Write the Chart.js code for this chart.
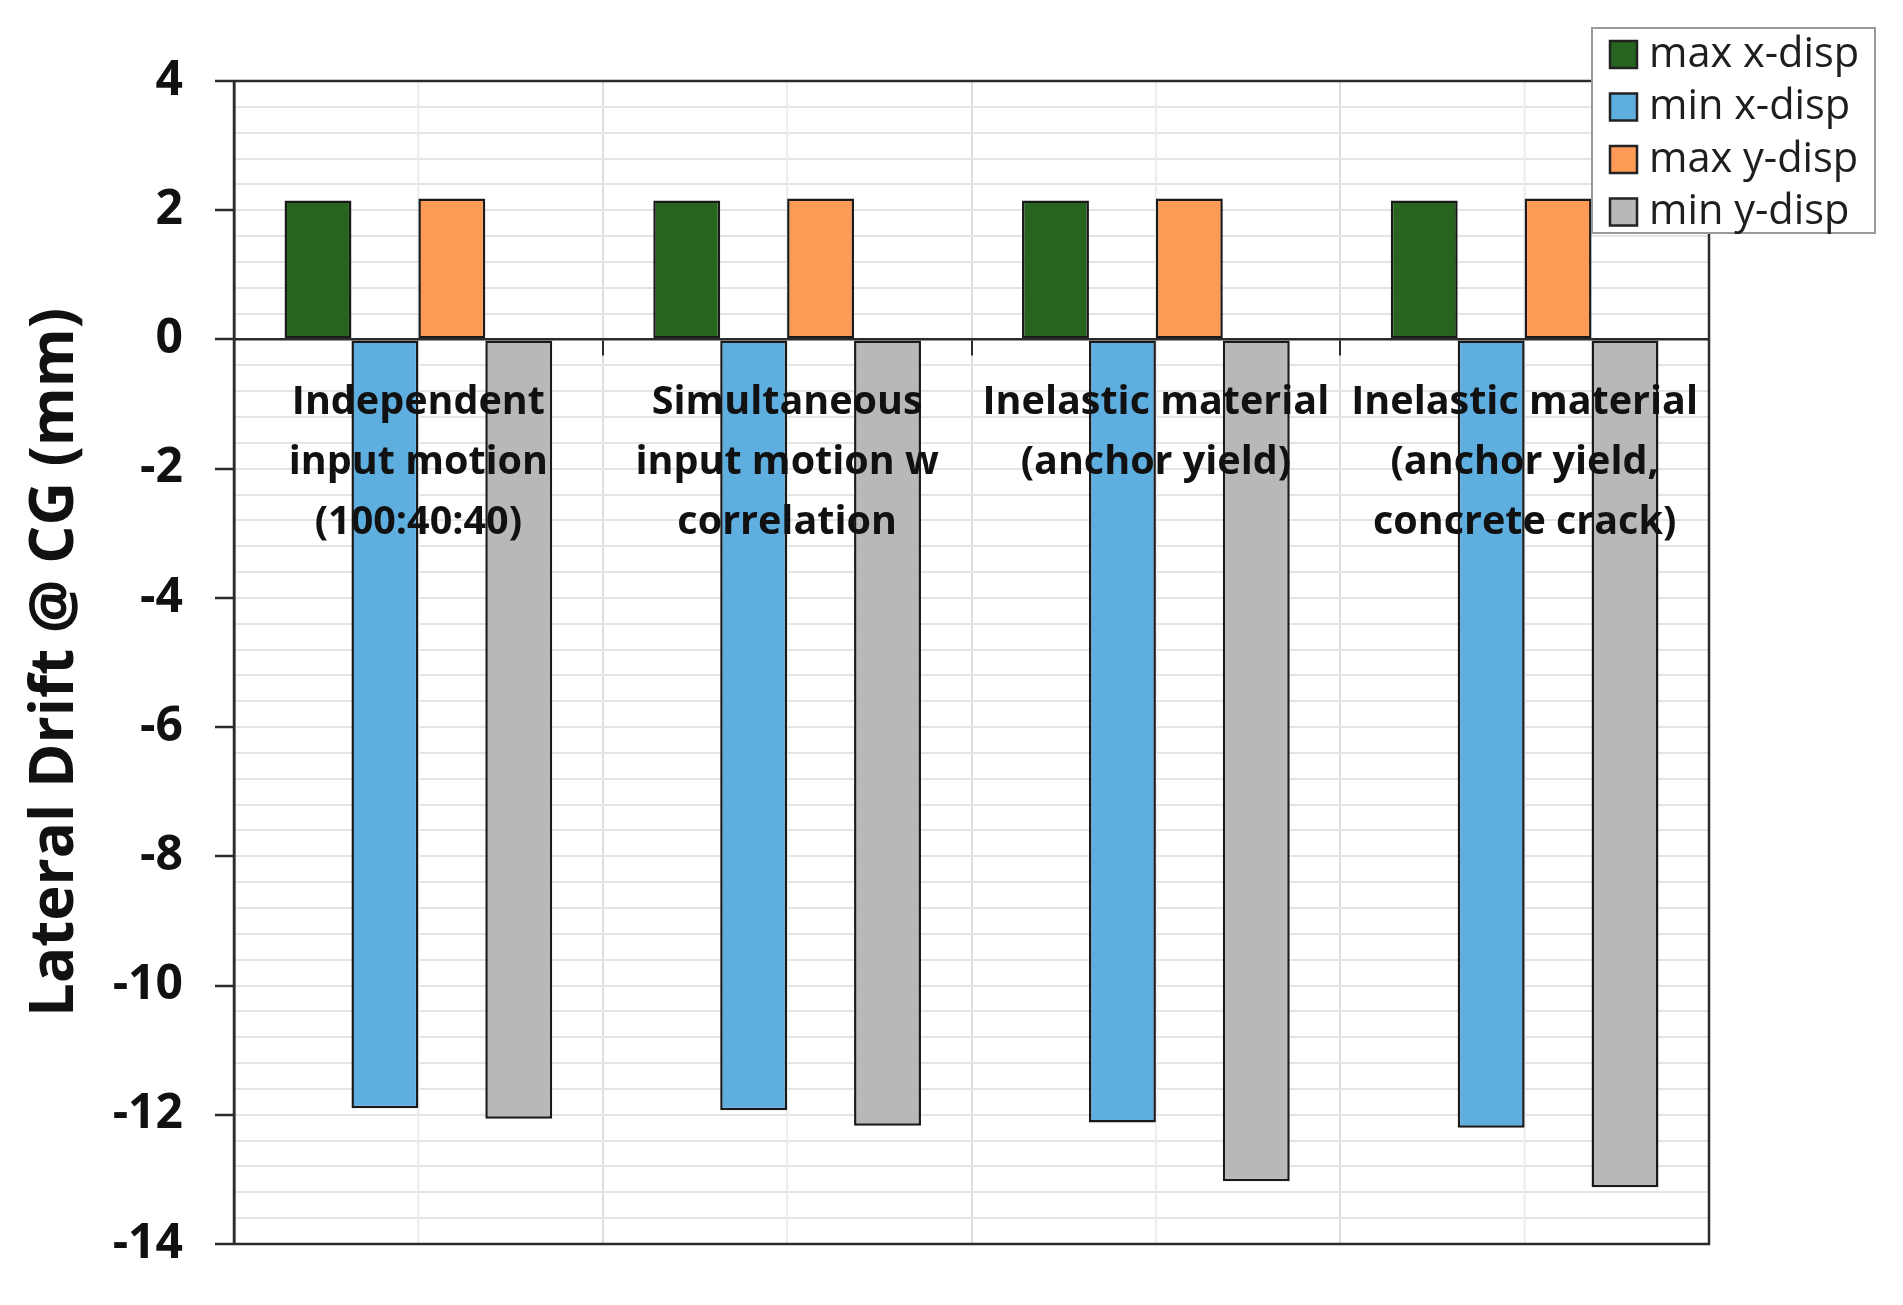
<!DOCTYPE html>
<html>
<head>
<meta charset="utf-8">
<script src="https://cdn.jsdelivr.net/npm/chart.js@4.4.0/dist/chart.umd.min.js"></script>
<style>
  html, body { margin: 0; padding: 0; background: #fff; }
  canvas { display: block; }
</style>
</head>
<body>
<canvas id="myChart" width="1903" height="1305"></canvas>
<script>
// chart data
var categories = [
    ['Independent', 'input motion', '(100:40:40)'],
    ['Simultaneous', 'input motion w', 'correlation'],
    ['Inelastic material', '(anchor yield)'],
    ['Inelastic material', '(anchor yield,', 'concrete crack)']
];
var seriesNames = ['max x-disp', 'min x-disp', 'max y-disp', 'min y-disp'];
var maxXDisp = [2.15, 2.15, 2.15, 2.15];
var minXDisp = [-11.9, -11.93, -12.12, -12.2];
var maxYDisp = [2.18, 2.18, 2.18, 2.18];
var minYDisp = [-12.06, -12.17, -13.03, -13.12];
var yTicks = [4, 2, 0, -2, -4, -6, -8, -10, -12, -14];

var colors = ['#26641f', '#5eaee0', '#fd9a56', '#b8b8b8'];

function isMajor(v) {
    return yTicks.some(function (t) { return Math.abs(t - v) < 1e-6; });
}

// box around the plot + the light lines through the category centres
const framePlugin = {
    id: 'frame',
    beforeDatasetsDraw: function (chart) {
        const ctx = chart.ctx;
        const a = chart.chartArea;
        const x = chart.scales.x;
        ctx.save();
        ctx.strokeStyle = '#ececec';
        ctx.lineWidth = 2;
        for (let i = 0; i < categories.length; i++) {
            const px = x.getPixelForValue(i);
            ctx.beginPath();
            ctx.moveTo(px, a.top);
            ctx.lineTo(px, a.bottom);
            ctx.stroke();
        }
        ctx.restore();
    },
    afterDatasetsDraw: function (chart) {
        const ctx = chart.ctx;
        const a = chart.chartArea;
        ctx.save();
        ctx.strokeStyle = '#2b2b2b';
        ctx.lineWidth = 2.5;
        ctx.strokeRect(a.left, a.top, a.right - a.left, a.bottom - a.top);
        ctx.restore();
    }
};

// legend box sitting over the top right corner
const boxLegend = {
    id: 'boxLegend',
    afterDraw: function (chart) {
        const ctx = chart.ctx;
        const left = 1592, top = 28, w = 283, h = 205;
        ctx.save();
        ctx.fillStyle = '#fff';
        ctx.fillRect(left, top, w, h);
        ctx.strokeStyle = '#9a9a9a';
        ctx.lineWidth = 2;
        ctx.strokeRect(left, top, w, h);
        ctx.font = '41.5px "Open Sans"';
        ctx.textBaseline = 'middle';
        chart.data.datasets.forEach(function (ds, i) {
            const cy = top + 26 + i * 52.5;
            ctx.fillStyle = ds.backgroundColor;
            ctx.fillRect(left + 18, cy - 13, 27, 27);
            ctx.strokeStyle = '#222';
            ctx.lineWidth = 2.5;
            ctx.strokeRect(left + 18, cy - 13, 27, 27);
            ctx.fillStyle = '#1e1e1e';
            ctx.fillText(ds.label, left + 57, cy + 1);
        });
        ctx.restore();
    }
};

const ctx = document.getElementById('myChart').getContext('2d');
const myChart = new Chart(ctx, {
    type: 'bar',
    data: {
        labels: categories,
        datasets: [
            { label: seriesNames[0], data: maxXDisp, backgroundColor: colors[0] },
            { label: seriesNames[1], data: minXDisp, backgroundColor: colors[1] },
            { label: seriesNames[2], data: maxYDisp, backgroundColor: colors[2] },
            { label: seriesNames[3], data: minYDisp, backgroundColor: colors[3] }
        ]
    },
    options: {
        responsive: false,
        maintainAspectRatio: false,
        animation: false,
        layout: {
            padding: { left: 0, top: 81, right: 194, bottom: 61 }
        },
        datasets: {
            bar: {
                borderColor: '#1a1a1a',
                borderWidth: 2.5,
                borderSkipped: false,
                barPercentage: 1,
                categoryPercentage: 0.726
            }
        },
        plugins: {
            legend: { display: false },
            tooltip: { enabled: false }
        },
        scales: {
            x: {
                position: { y: 0 },
                offset: true,
                grid: {
                    offset: true,
                    color: '#dcdcdc',
                    lineWidth: 2,
                    tickLength: 15,
                    tickColor: '#2b2b2b',
                    tickWidth: 2
                },
                border: { display: true, color: '#2b2b2b', width: 2.5, z: 1 },
                ticks: {
                    z: 1,
                    autoSkip: false,
                    maxRotation: 0,
                    minRotation: 0,
                    padding: 18,
                    color: '#111',
                    font: { family: 'Open Sans', weight: 'bold', size: 39.5, lineHeight: 1.52 }
                }
            },
            y: {
                min: -14,
                max: 4,
                afterFit: function (scale) { scale.width = 234; },
                grid: {
                    color: '#e4e4e4',
                    lineWidth: 2,
                    tickLength: 19,
                    tickWidth: 2.5,
                    tickColor: function (c) {
                        return c.tick && isMajor(c.tick.value) ? '#2b2b2b' : 'rgba(0,0,0,0)';
                    }
                },
                border: { display: true, color: '#2b2b2b', width: 2.5 },
                ticks: {
                    stepSize: 0.4,
                    autoSkip: false,
                    padding: 32,
                    color: '#111',
                    font: { family: 'Open Sans', weight: 'bold', size: 48 },
                    callback: function (v) {
                        return isMajor(v) ? String(Math.round(v)) : '';
                    }
                },
                title: {
                    display: true,
                    text: 'Lateral Drift @ CG (mm)',
                    color: '#111',
                    padding: { top: 20, bottom: 0 },
                    font: { family: 'Open Sans', weight: 'bold', size: 60, lineHeight: 1.2 }
                }
            }
        }
    },
    plugins: [framePlugin, boxLegend]
});
</script>
</body>
</html>
